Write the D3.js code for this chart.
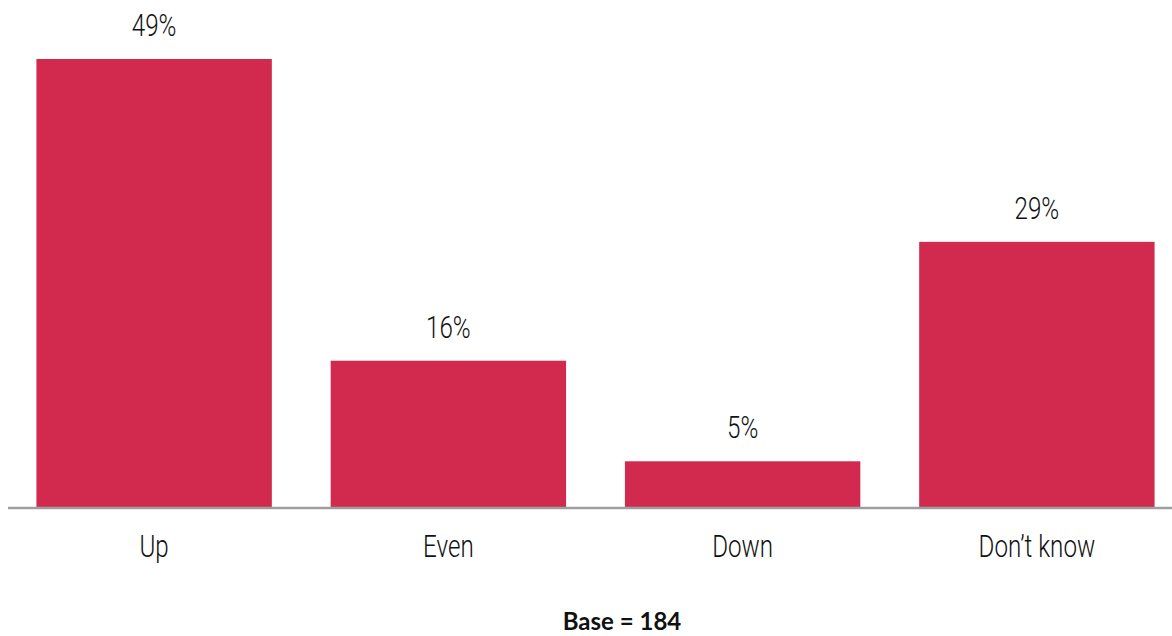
<!DOCTYPE html>
<html>
<head>
<meta charset="utf-8">
<script src="https://cdn.jsdelivr.net/npm/d3@7"></script>
<style>
  html, body { margin: 0; padding: 0; background: #fff; }
  svg { display: block; }
  .lbl { font-family: Roboto, "DejaVu Sans", sans-serif; font-weight: 300; fill: #111; }
  .base { font-family: Lato, "Open Sans", sans-serif; font-weight: 700; fill: #111; }
</style>
</head>
<body>
<svg id="chart" width="1172" height="636"></svg>
<script>
// Expected direction of change — share of respondents
const categories = ["Up", "Even", "Down", "Don\u2019t know"];
const values = [49, 16, 5, 29];
const baseNote = "Base = 184";

const W = 1172, H = 636;
const svg = d3.select("#chart");
const narrow = 0.78; // horizontal squeeze for the condensed label look

const x = d3.scaleBand()
  .domain(categories)
  .range([7, 1184])
  .paddingInner(0.2)
  .paddingOuter(0.1);

const y = d3.scaleLinear()
  .domain([0, 49])
  .range([507, 59]);

// bars
svg.append("g")
  .selectAll("rect")
  .data(values)
  .join("rect")
  .attr("x", (d, i) => x(categories[i]))
  .attr("y", d => y(d))
  .attr("width", x.bandwidth())
  .attr("height", d => y(0) - y(d))
  .attr("fill", "#d22a4e");

// value labels
svg.append("g")
  .selectAll("text")
  .data(values)
  .join("text")
  .attr("class", "lbl")
  .attr("transform", (d, i) =>
    `translate(${x(categories[i]) + x.bandwidth() / 2},${y(d) - 23}) scale(${narrow},1)`)
  .attr("text-anchor", "middle")
  .attr("font-size", 31)
  .text(d => d + "%");

// baseline
svg.append("line")
  .attr("x1", 8).attr("x2", W)
  .attr("y1", y(0) + 1).attr("y2", y(0) + 1)
  .attr("stroke", "#9e9e9e")
  .attr("stroke-width", 2.5);

// category axis labels
const xAxis = d3.axisBottom(x).tickSize(0).tickPadding(0);
const gx = svg.append("g")
  .attr("transform", `translate(0,${y(0)})`)
  .call(xAxis);
gx.select(".domain").remove();
gx.selectAll("text")
  .attr("class", "lbl")
  .attr("dy", null)
  .attr("y", 0)
  .attr("transform", `translate(0,50) scale(${narrow},1)`)
  .attr("font-size", 31);

// base note
svg.append("text")
  .attr("class", "base")
  .attr("x", 622)
  .attr("y", 630)
  .attr("text-anchor", "middle")
  .attr("font-size", 24)
  .text(baseNote);
</script>
</body>
</html>
